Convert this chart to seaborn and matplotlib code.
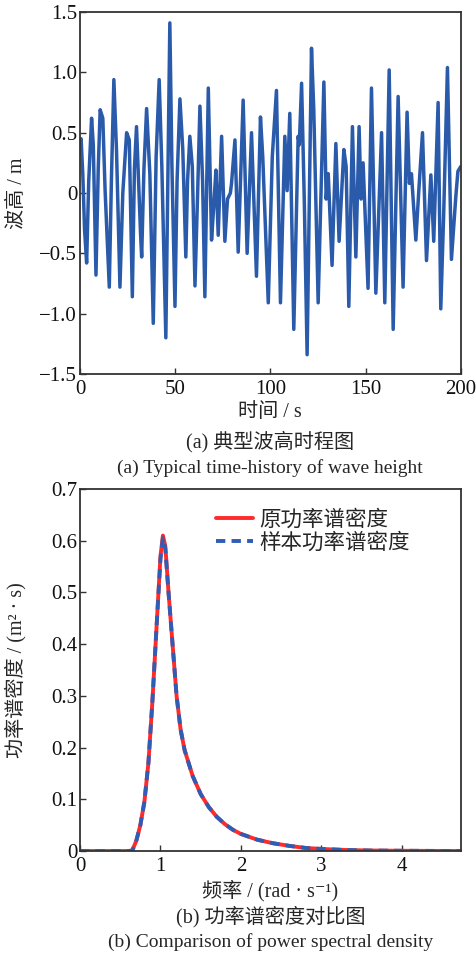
import numpy as np
import pandas as pd
import matplotlib
matplotlib.use("Agg")
import matplotlib.pyplot as plt
import seaborn as sns

# Wave height time history (extremes + a few shoulders)
wave_time = [0, 0.6, 1.5, 2.4, 3.5, 4.6, 6.1, 7.0, 8.4, 9.6, 10.6, 12.0, 13.2, 15.4,
             16.5, 17.8, 19.2, 21.0, 22.5, 24.5, 25.9, 27.5, 28.6, 29.7, 31.8, 32.4,
             33.6, 35.0, 36.7, 38.5, 40.0, 41.6, 43.0, 45.1, 47.2, 48.3, 49.9, 51.0,
             52.5, 54.0, 55.6, 56.5, 57.7, 59.0, 60.4, 61.8, 63.0, 64.4, 65.6, 67.4,
             69.1, 70.3, 71.4, 72.6, 74.4, 76.1, 77.5, 79.0, 79.6, 81.4, 83.1, 85.7,
             87.8, 90.1, 92.7, 94.8, 96.0, 98.9, 101.0, 103.2, 105.3, 107.6, 108.8,
             110.2, 112.3, 114.6, 115.2, 116.4, 117.8, 119.3, 121.6, 122.8, 125.1,
             128.1, 129.3, 130.4, 132.4, 134.4, 136.1, 138.6, 139.8, 141.2, 143.1,
             144.9, 146.6, 147.6, 148.7, 151.3, 153.1, 155.4, 158.4, 160.1, 162.4,
             164.5, 167.1, 169.7, 171.8, 173.0, 174.1, 176.4, 178.0, 179.9, 182.0,
             184.3, 185.8, 188.1, 189.5, 191.0, 193.0, 195.1, 197.4, 198.5, 200.0]
wave_height = [0.40, 0.45, 0.15, -0.30, -0.58, 0.10, 0.62, 0.40, -0.68, 0.20, 0.69, 0.62,
               0.02, -0.78, 0.10, 0.94, 0.35, -0.78, 0.00, 0.50, 0.44, -0.86, 0.20, 0.55,
               -0.33, -0.53, 0.20, 0.70, 0.16, -1.08, 0.30, 0.94, 0.22, -1.20, 1.41, 0.22,
               -0.94, 0.10, 0.78, 0.36, -0.53, 0.10, 0.47, 0.22, -0.77, 0.00, 0.72, 0.10,
               -0.86, 0.87, -0.39, -0.10, 0.19, -0.35, 0.47, -0.40, -0.05, 0.00, 0.08,
               0.44, -0.49, 0.77, -0.50, 0.50, -0.69, 0.63, 0.30, -0.91, 0.30, 0.85,
               -0.91, 0.47, 0.02, 0.66, -1.13, 0.47, 0.40, 0.91, -0.05, -1.34, 1.20,
               0.69, -0.91, 0.92, -0.05, 0.16, -0.60, 0.41, -0.40, 0.36, 0.22, -0.94,
               0.55, -0.53, 0.55, -0.05, 0.25, -0.79, 0.87, -0.83, 0.50, -0.91, 1.02,
               -1.13, 0.80, -0.78, 0.67, 0.08, 0.16, -0.39, 0.03, 0.50, -0.56, 0.15,
               -0.40, 0.75, -0.96, -0.19, 1.04, -0.55, -0.03, 0.18, 0.22]

# Power spectral density (rad/s, m^2 s)
freq = [0, 0.60, 0.65, 0.70, 0.75, 0.80, 0.85, 0.90, 0.95, 1.00, 1.03, 1.06, 1.10,
        1.15, 1.20, 1.25, 1.30, 1.40, 1.50, 1.60, 1.70, 1.80, 1.90, 2.00, 2.20, 2.40,
        2.60, 2.80, 3.00, 3.30, 3.60, 4.00, 4.40, 4.75]
psd_orig = [0, 0, 0.001, 0.02, 0.05, 0.095, 0.17, 0.29, 0.43, 0.57, 0.61, 0.59, 0.50,
            0.40, 0.30, 0.235, 0.195, 0.145, 0.11, 0.085, 0.066, 0.052, 0.041, 0.033,
            0.022, 0.015, 0.010, 0.006, 0.004, 0.002, 0.001, 0.0005, 0.0002, 0]
psd_sample = [0, 0, 0.001, 0.02, 0.05, 0.095, 0.17, 0.29, 0.43, 0.565, 0.605, 0.585,
              0.50, 0.40, 0.30, 0.235, 0.195, 0.145, 0.11, 0.085, 0.066, 0.052, 0.041,
              0.033, 0.022, 0.015, 0.010, 0.006, 0.004, 0.002, 0.001, 0.0005, 0.0002, 0]

sns.set_theme(style="ticks")
plt.rcParams['font.family'] = ['Liberation Serif', 'DejaVu Serif', 'Noto Sans CJK SC']
plt.rcParams['axes.unicode_minus'] = True
plt.rcParams['xtick.direction'] = 'in'
plt.rcParams['ytick.direction'] = 'in'

fig = plt.figure(figsize=(4.76, 9.56), dpi=100)
ax1 = fig.add_axes([0.168, 0.6088, 0.800, 0.3786])
ax2 = fig.add_axes([0.168, 0.1098, 0.800, 0.3787])

spine_col = "#333333"
tick_fs = 15
lab_fs = 14.5

# (a) wave height
wave_df = pd.DataFrame({"t": wave_time, "h": wave_height})
sns.lineplot(data=wave_df, x="t", y="h", ax=ax1, color="#2A5AAA", lw=2.5, estimator=None)
ax1.set_xlim(0, 200)
ax1.set_ylim(-1.5, 1.5)
ax1.set_xticks([0, 50, 100, 150, 200])
ax1.set_yticks([-1.5, -1.0, -0.5, 0, 0.5, 1.0, 1.5])
ax1.set_yticklabels(["\u22121.5", "\u22121.0", "\u22120.5", "0", "0.5", "1.0", "1.5"])
ax1.set_xlabel("时间 / s", fontsize=lab_fs, labelpad=3)
ax1.set_ylabel("波高 / m", fontsize=lab_fs)
ax1.yaxis.set_label_coords(-0.14, 0.5)

# (b) PSD comparison
sns.lineplot(x=freq, y=psd_orig, ax=ax2, color="#FF2A2A", lw=2.8, label="原功率谱密度")
sns.lineplot(x=freq, y=psd_sample, ax=ax2, color="#2F5DB5", lw=2.8,
             label="样本功率谱密度", dashes=False)
ax2.lines[1].set_dashes((2.4, 1.6))
ax2.set_xlim(0, 4.73)
ax2.set_ylim(0, 0.7)
ax2.set_xticks([0, 1, 2, 3, 4])
ax2.set_xticklabels(["0", "1", "2", "3", "4"])
ax2.set_yticks([0, 0.1, 0.2, 0.3, 0.4, 0.5, 0.6, 0.7])
ax2.set_yticklabels(["0", "0.1", "0.2", "0.3", "0.4", "0.5", "0.6", "0.7"])
ax2.set_xlabel("频率 / (rad · s\u207b\u00b9)", fontsize=lab_fs, labelpad=3)
ax2.set_ylabel("功率谱密度 / (m\u00b2 · s)", fontsize=lab_fs)
ax2.yaxis.set_label_coords(-0.14, 0.5)
leg = ax2.legend(loc="upper left", bbox_to_anchor=(0.335, 0.965), frameon=False,
                 fontsize=15.5, handlelength=1.7, handletextpad=0.3,
                 labelspacing=0.12, borderaxespad=0.0)
for h in leg.get_lines():
    h.set_linewidth(2.8)

for ax in (ax1, ax2):
    ax.tick_params(labelsize=tick_fs, length=4, width=1, colors=spine_col,
                   labelcolor="#111111")
    ax.tick_params(axis="x", pad=4)
    ax.tick_params(axis="y", pad=2)
    for sp in ax.spines.values():
        sp.set_visible(True)
        sp.set_color(spine_col)
        sp.set_linewidth(1.3)

fig.text(0.568, 1 - 442 / 956, "(a) 典型波高时程图", ha="center", va="center", fontsize=14.5)
fig.text(0.568, 1 - 468 / 956, "(a) Typical time-history of wave height", ha="center",
         va="center", fontsize=14)
fig.text(0.568, 1 - 917 / 956, "(b) 功率谱密度对比图", ha="center", va="center", fontsize=14.5)
fig.text(0.568, 1 - 942 / 956, "(b) Comparison of power spectral density", ha="center",
         va="center", fontsize=14)

fig.savefig("out.png", dpi=100, facecolor="white")
